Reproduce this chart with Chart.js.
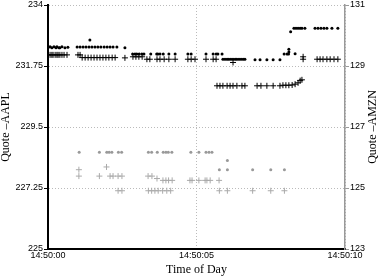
<!DOCTYPE html>
<html>
<head>
<meta charset="utf-8">
<script src="https://cdn.jsdelivr.net/npm/chart.js@4"></script>
<style>
html, body { margin: 0; padding: 0; background: #fff; }
#wrap { width: 379px; height: 276px; }
</style>
</head>
<body>
<div id="wrap"><canvas id="quoteChart" width="379" height="276"></canvas></div>
<script>
// seconds after 14:50:00
const timeTicks = [0, 5, 10];
const timeLabels = ['14:50:00', '14:50:05', '14:50:10'];
const aaplTicks = [225, 227.25, 229.5, 231.75, 234];
const amznTicks = [123, 125, 127, 129, 131];

// AAPL ask (black dots)
const aaplAskTime = [
    0, 0.07, 0.13, 0.2, 0.27, 0.3, 0.37, 0.4, 0.47, 0.57, 0.67,
    0.98, 1.08, 1.18, 1.28, 1.38, 1.41, 1.48, 1.58, 1.68, 1.78, 1.89, 1.99, 2.09, 2.19, 2.32,
    2.59,
    2.85, 2.93, 2.99, 3.07, 3.16, 3.23, 3.46, 3.66, 3.7, 3.77, 3.88, 4.07, 4.28, 4.71, 4.82, 5.32, 5.56, 5.66, 5.72, 5.86,
    5.89, 5.96, 6.03, 6.09, 6.16, 6.23, 6.3, 6.36, 6.43, 6.5, 6.57, 6.63,
    6.97, 7.14, 7.37, 7.58, 7.81,
    7.95, 8.05, 8.1, 8.11, 8.11, 8.17, 8.28, 8.32, 8.35, 8.42, 8.49, 8.55, 8.65,
    8.99, 9.09, 9.19, 9.29, 9.39, 9.56, 9.76
];
const aaplAsk = [
    232.42, 232.46, 232.42, 232.46, 232.42, 232.46, 232.42, 232.42, 232.46, 232.42, 232.44,
    232.45, 232.45, 232.45, 232.45, 232.45, 232.71, 232.45, 232.45, 232.45, 232.45, 232.45, 232.45, 232.45, 232.45, 232.45,
    232.42,
    232.19, 232.19, 232.19, 232.19, 232.19, 232.19, 232.19, 232.19, 232.19, 232.19, 232.19, 232.19, 232.19, 232.19, 232.19, 232.19, 232.19, 232.19, 232.19, 232.19,
    232.00, 232.00, 232.00, 232.00, 232.00, 232.00, 232.00, 232.00, 232.00, 232.00, 232.00, 232.00,
    231.98, 231.98, 231.98, 231.98, 231.98,
    232.19, 232.19, 232.19, 232.37, 232.27, 233.01, 233.14, 232.20, 233.14, 233.14, 233.14, 233.14, 233.14,
    233.14, 233.14, 233.14, 233.14, 233.14, 233.14, 233.14
];

// AAPL bid (black crosses)
const aaplBidTime = [
    0, 0.07, 0.13, 0.17, 0.24, 0.3, 0.34, 0.4, 0.47, 0.54, 0.64,
    1.01, 1.08,
    1.15, 1.25, 1.35, 1.45, 1.55, 1.65, 1.75, 1.85, 1.95, 2.05, 2.16, 2.26,
    2.59,
    2.86, 2.96, 3.06, 3.17,
    3.33, 3.43, 3.67, 3.77, 3.91, 4.07, 4.28, 4.71, 4.82, 4.95, 5.32, 5.56, 5.66,
    5.69, 5.79, 5.89, 6.03, 6.13, 6.23, 6.36, 6.53, 6.63,
    6.23,
    7.04, 7.17, 7.37, 7.58, 7.81,
    7.91, 8.01, 8.11, 8.22, 8.32, 8.42, 8.49, 8.55,
    8.59, 8.59,
    9.06, 9.16, 9.26, 9.39, 9.5, 9.63, 9.76
];
const aaplBid = [
    232.16, 232.16, 232.16, 232.16, 232.16, 232.16, 232.16, 232.16, 232.16, 232.16, 232.16,
    232.16, 232.16,
    232.06, 232.06, 232.06, 232.06, 232.06, 232.06, 232.06, 232.06, 232.06, 232.06, 232.06, 232.06,
    232.05,
    232.09, 232.09, 232.09, 232.09,
    232.00, 232.00, 232.00, 232.00, 232.00, 232.00, 232.00, 232.00, 232.00, 232.00, 232.00, 232.00, 232.00,
    231.02, 231.02, 231.02, 231.02, 231.02, 231.02, 231.02, 231.02, 231.02,
    231.88,
    231.02, 231.02, 231.02, 231.02, 231.02,
    231.04, 231.04, 231.04, 231.05, 231.08, 231.13, 231.21, 231.24,
    232.09, 232.00,
    232.00, 232.00, 232.00, 232.00, 232.00, 232.00, 232.00
];

// AMZN ask (grey dots)
const amznAskTime = [
    1.05, 1.73, 1.98, 2.06, 2.15, 2.37, 2.48, 3.38, 3.49, 3.68, 3.88, 3.97, 4.05, 4.17, 4.81, 5.08, 5.32, 5.42, 5.52,
    5.77, 6.04, 6.04, 6.89, 7.5, 7.96
];
const amznAsk = [
    126.17, 126.17, 126.17, 126.17, 126.17, 126.17, 126.17, 126.17, 126.17, 126.17, 126.17, 126.17, 126.17, 126.17, 126.17, 126.17, 126.17, 126.17, 126.17,
    125.60, 125.60, 125.90, 125.60, 125.60, 125.60
];

// AMZN bid (grey crosses)
const amznBidTime = [
    1.04, 1.04, 1.73, 1.97, 2.09, 2.19, 2.36, 2.36, 2.49, 2.49,
    3.37, 3.38, 3.5, 3.49, 3.6, 3.67, 3.71, 3.87, 3.86, 3.97, 4.0, 4.06, 4.13, 4.18,
    4.78, 4.85, 5.08, 5.29, 5.35, 5.46, 5.76,
    5.77, 6.04, 6.89, 7.5, 7.96
];
const amznBid = [
    125.60, 125.39, 125.39, 125.69, 125.39, 125.39, 125.39, 124.91, 125.39, 124.91,
    125.39, 124.91, 125.39, 124.91, 124.91, 125.31, 124.91, 125.25, 124.91, 125.25, 124.91, 125.25, 124.91, 125.25,
    125.25, 125.25, 125.25, 125.25, 125.25, 125.25, 125.25,
    124.91, 124.91, 124.91, 124.91, 124.91
];

const toPoints = (xs, ys) => xs.map((x, i) => ({ x: x, y: ys[i] }));

const tickFont = { family: 'Liberation Sans', size: 9, lineHeight: 0.85 };
const titleFont = { family: 'Liberation Serif', size: 12, lineHeight: 1 };

// right title reads bottom-to-top like the left one
const rightTitle = {
    id: 'rightTitle',
    afterDraw(chart) {
        const ctx = chart.ctx;
        const area = chart.chartArea;
        ctx.save();
        ctx.translate(373, (area.top + area.bottom) / 2);
        ctx.rotate(-Math.PI / 2);
        ctx.font = '12px "Liberation Serif"';
        ctx.fillStyle = '#000';
        ctx.textAlign = 'center';
        ctx.textBaseline = 'middle';
        ctx.fillText('Quote \u2013AMZN', 0, 0);
        ctx.restore();
    }
};

function initChart() {
    const ctx = document.getElementById('quoteChart').getContext('2d');
    new Chart(ctx, {
        type: 'scatter',
        data: {
            datasets: [
                {
                    label: 'AAPL ask', data: toPoints(aaplAskTime, aaplAsk), yAxisID: 'y',
                    pointStyle: 'circle', pointRadius: 1.5, backgroundColor: '#000', borderWidth: 0
                },
                {
                    label: 'AAPL bid', data: toPoints(aaplBidTime, aaplBid), yAxisID: 'y',
                    pointStyle: 'cross', pointRadius: 3, borderColor: '#000', borderWidth: 1
                },
                {
                    label: 'AMZN ask', data: toPoints(amznAskTime, amznAsk), yAxisID: 'y1',
                    pointStyle: 'circle', pointRadius: 1.5, backgroundColor: '#999', borderWidth: 0
                },
                {
                    label: 'AMZN bid', data: toPoints(amznBidTime, amznBid), yAxisID: 'y1',
                    pointStyle: 'cross', pointRadius: 3, borderColor: '#aaa', borderWidth: 1
                }
            ]
        },
        options: {
            responsive: false,
            animation: false,
            layout: { padding: { top: 4, left: 0, right: 0, bottom: 0 } },
            plugins: {
                legend: { display: false },
                tooltip: { enabled: false }
            },
            scales: {
                x: {
                    type: 'linear',
                    min: 0, max: 10,
                    afterBuildTicks: s => { s.ticks = timeTicks.map(v => ({ value: v })); },
                    afterFit: s => { s.height = 27; },
                    ticks: {
                        font: tickFont, color: '#000', padding: 3, maxRotation: 0, autoSkip: false,
                        callback: (v) => timeLabels[timeTicks.indexOf(v)]
                    },
                    grid: { color: '#bbb', drawTicks: false },
                    border: { color: '#000', width: 2, dash: [1, 2] },
                    title: { display: true, text: 'Time of Day', font: titleFont, color: '#000', padding: 0 }
                },
                y: {
                    position: 'left',
                    min: 225, max: 234,
                    afterBuildTicks: s => { s.ticks = aaplTicks.map(v => ({ value: v })); },
                    afterFit: s => { s.width = 48; },
                    ticks: { font: tickFont, color: '#000', padding: 1, callback: v => String(v) },
                    grid: { color: '#bbb', tickColor: '#000', tickLength: 4, tickWidth: 1 },
                    border: { color: '#000', width: 2, dash: [1, 2] },
                    title: { display: true, text: 'Quote \u2013AAPL', font: titleFont, color: '#000', padding: 0 }
                },
                y1: {
                    position: 'right',
                    min: 123, max: 131,
                    afterBuildTicks: s => { s.ticks = amznTicks.map(v => ({ value: v })); },
                    afterFit: s => { s.width = 34; },
                    ticks: { font: tickFont, color: '#000', padding: 1, callback: v => String(v) },
                    grid: { drawOnChartArea: false, tickColor: '#999', tickLength: 4, tickWidth: 1 },
                    border: { color: '#999', width: 1.5 }
                }
            }
        },
        plugins: [rightTitle]
    });
}

document.addEventListener('DOMContentLoaded', initChart);
</script>
</body>
</html>
